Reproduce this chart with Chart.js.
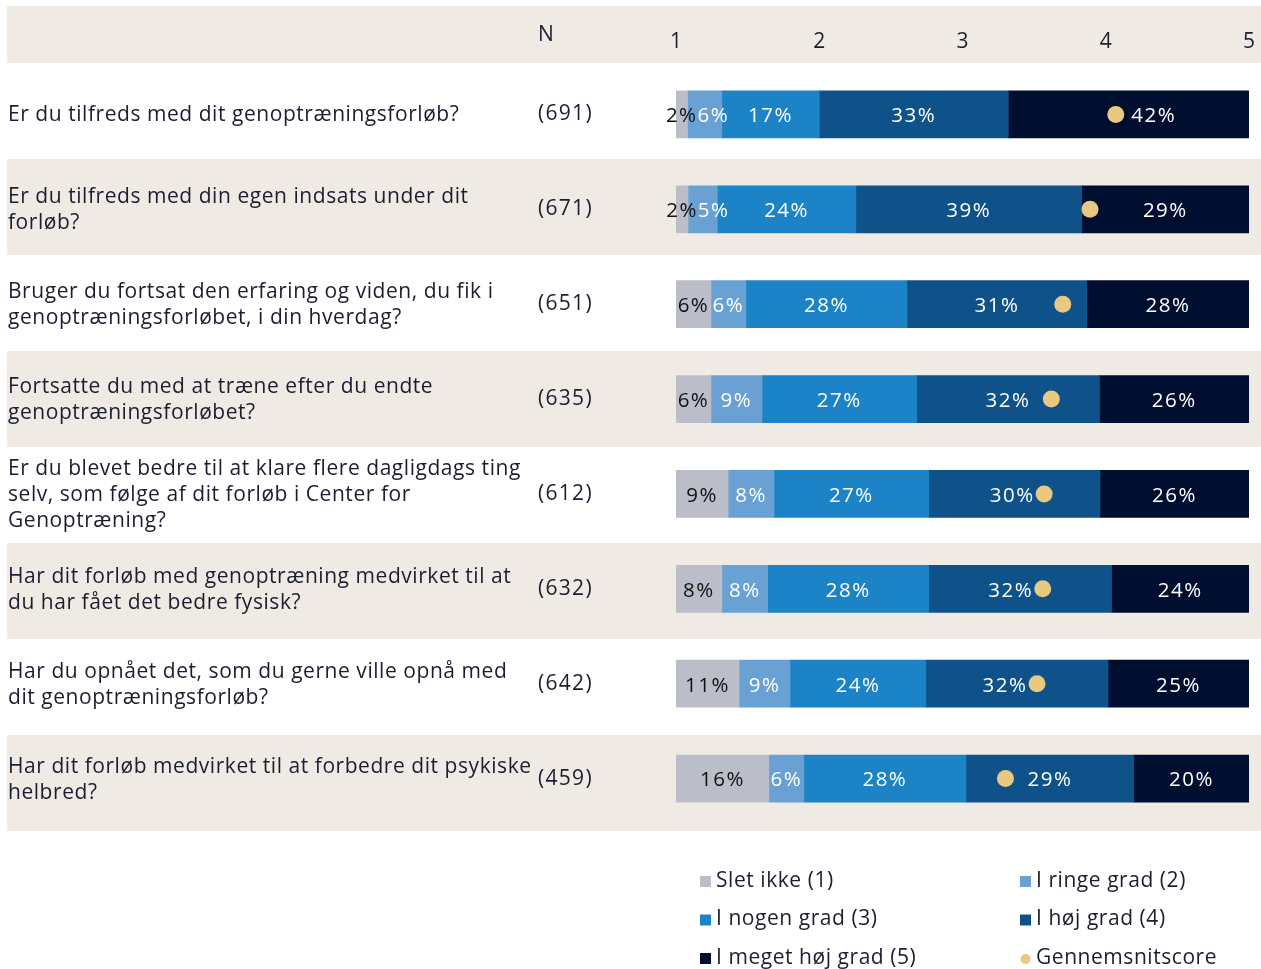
<!DOCTYPE html>
<html lang="da">
<head>
    <meta charset="UTF-8">
    <title>Genoptræningsforløb</title>
    <script src="https://cdn.jsdelivr.net/npm/chart.js"></script>
    <style>
        html, body { margin: 0; padding: 0; background: #fff; }
        .chart-box { width: 1261px; height: 969px; position: relative; }
    </style>
</head>
<body>
    <div class="chart-box"><canvas id="chart"></canvas></div>
    <script>
        // Spørgsmål (linjeskift som i originalen)
        const questions = [
            ['Er du tilfreds med dit genoptræningsforløb?'],
            ['Er du tilfreds med din egen indsats under dit', 'forløb?'],
            ['Bruger du fortsat den erfaring og viden, du fik i', 'genoptræningsforløbet, i din hverdag?'],
            ['Fortsatte du med at træne efter du endte', 'genoptræningsforløbet?'],
            ['Er du blevet bedre til at klare flere dagligdags ting', 'selv, som følge af dit forløb i Center for', 'Genoptræning?'],
            ['Har dit forløb med genoptræning medvirket til at', 'du har fået det bedre fysisk?'],
            ['Har du opnået det, som du gerne ville opnå med', 'dit genoptræningsforløb?'],
            ['Har dit forløb medvirket til at forbedre dit psykiske', 'helbred?']
        ];
        const nValues = [691, 671, 651, 635, 612, 632, 642, 459];

        // Andele i procent
        const sletIkke      = [2.0, 2.1, 6.1, 6.1, 9.1, 8.0, 11.0, 16.2];
        const ringeGrad     = [6.0, 5.1, 6.1, 8.9, 8.0, 8.0, 8.9, 6.1];
        const nogenGrad     = [17.0, 24.2, 28.1, 27.0, 27.0, 28.1, 23.7, 28.3];
        const hoejGrad      = [33.0, 39.4, 31.4, 31.9, 29.9, 31.9, 31.8, 29.3];
        const megetHoejGrad = [42.0, 29.2, 28.3, 26.1, 26.0, 24.0, 24.6, 20.1];
        const meanScore     = [4.07, 3.89, 3.70, 3.62, 3.57, 3.56, 3.52, 3.30];

        const scaleTicks = [1, 2, 3, 4, 5];
        const seriesLabels = ['Slet ikke (1)', 'I ringe grad (2)', 'I nogen grad (3)', 'I høj grad (4)', 'I meget høj grad (5)'];
        const meanLabel = 'Gennemsnitscore';

        const colors = ['#bbbec8', '#6aa1d4', '#1c84c6', '#0f5289', '#000e30'];
        const meanColor = '#e9c882';
        const bandColor = '#efebe4';
        const textColor = '#1c1e30';
        const fontFamily = '"Open Sans", Lato, sans-serif';
        const dotRadius = 8.5;

        const series = [sletIkke, ringeGrad, nogenGrad, hoejGrad, megetHoejGrad];
        const labels = questions.map(q => q.join(' '));

        // baggrundsbånd bag hver anden række
        const bandsPlugin = {
            id: 'bands',
            beforeDraw(chart) {
                const { ctx, chartArea } = chart;
                const top = chartArea.top - 4;
                const step = (chartArea.bottom + 5 - top) / labels.length;
                ctx.save();
                ctx.fillStyle = bandColor;
                ctx.fillRect(7, 6, chart.width - 7, top - 6);
                labels.forEach((l, i) => {
                    if (i % 2 === 1) ctx.fillRect(7, top + i * step, chart.width - 7, step);
                });
                ctx.restore();
            }
        };

        // procenttal i segmenterne, tegnes før prikkerne
        const percentPlugin = {
            id: 'percents',
            afterDatasetDraw(chart, args) {
                if (args.index !== 0) return;
                const ctx = chart.ctx;
                const dots = chart.getDatasetMeta(series.length).data;
                ctx.save();
                ctx.font = '20.5px ' + fontFamily;
                ctx.letterSpacing = '1.5px';
                ctx.textBaseline = 'middle';
                ctx.textAlign = 'left';
                labels.forEach((l, i) => {
                    let prevRight = -Infinity;
                    const dot = dots[i];
                    series.forEach((s, d) => {
                        const bar = chart.getDatasetMeta(d).data[i];
                        const text = Math.round(s[i]) + '%';
                        const w = ctx.measureText(text).width;
                        const center = (bar.x + bar.base) / 2;
                        let left = Math.max(center - w / 2, prevRight);
                        // skub teksten væk fra gennemsnitsprikken
                        if (dot && dot.x + dotRadius > left && dot.x - dotRadius < left + w) {
                            if (dot.x < center) left = dot.x + dotRadius + 7;
                            else left = dot.x - dotRadius - 1 - w;
                        }
                        prevRight = left + w;
                        ctx.fillStyle = d === 0 ? '#111' : '#fff';
                        ctx.fillText(text, left, bar.y + 2);
                    });
                });
                ctx.restore();
            }
        };

        // spørgsmål, N og forklaring
        const textPlugin = {
            id: 'texts',
            afterDraw(chart) {
                const { ctx, chartArea, scales: { y } } = chart;
                ctx.save();
                ctx.font = '21px ' + fontFamily;
                ctx.letterSpacing = '0.55px';
                ctx.fillStyle = textColor;
                ctx.textBaseline = 'middle';
                ctx.textAlign = 'left';
                ctx.fillText('N', 538, 35);
                questions.forEach((q, i) => {
                    const yc = y.getPixelForValue(i);
                    const lh = 26;
                    q.forEach((line, k) => {
                        ctx.fillText(line, 8, yc + 1 + (k - (q.length - 1) / 2) * lh);
                    });
                    ctx.save();
                    ctx.letterSpacing = '1.3px';
                    ctx.fillText('(' + nValues[i] + ')', 538, yc);
                    ctx.restore();
                });

                // forklaring i to kolonner
                const items = seriesLabels.map((t, d) => ({ text: t, color: colors[d], dot: false }));
                items.push({ text: meanLabel, color: meanColor, dot: true });
                items.forEach((it, k) => {
                    const col = k % 2, row = Math.floor(k / 2);
                    const x = chartArea.left + 24 + col * 320;
                    const yy = chartArea.bottom + 55 + row * 38.5;
                    ctx.fillStyle = it.color;
                    if (it.dot) {
                        ctx.beginPath();
                        ctx.arc(x + 5.5, yy + 1, 5, 0, Math.PI * 2);
                        ctx.fill();
                    } else {
                        ctx.fillRect(x, yy - 5, 11, 11);
                    }
                    ctx.fillStyle = textColor;
                    ctx.fillText(it.text, x + 16, yy);
                });
                ctx.restore();
            }
        };

        const datasets = series.map((s, d) => ({
            label: seriesLabels[d],
            data: s,
            backgroundColor: colors[d],
            borderWidth: 0,
            barThickness: 47,
            xAxisID: 'x',
            yAxisID: 'y',
            stack: 'svar'
        }));
        datasets.push({
            type: 'scatter',
            label: meanLabel,
            data: meanScore.map((v, i) => ({ x: v, y: i })),
            xAxisID: 'x2',
            yAxisID: 'y',
            backgroundColor: meanColor,
            borderWidth: 0,
            pointRadius: dotRadius,
            order: -1
        });

        new Chart(document.getElementById('chart'), {
            type: 'bar',
            data: { labels: labels, datasets: datasets },
            options: {
                indexAxis: 'y',
                responsive: true,
                maintainAspectRatio: false,
                animation: false,
                events: [],
                layout: { padding: { left: 676, right: 12, top: 8, bottom: 143 } },
                plugins: { legend: { display: false }, tooltip: { enabled: false } },
                scales: {
                    x: { type: 'linear', min: 0, max: 100, stacked: true, display: false },
                    x2: {
                        type: 'linear', position: 'top', min: 1, max: 5,
                        afterBuildTicks(scale) { scale.ticks = scaleTicks.map(v => ({ value: v })); },
                        afterFit(scale) {
                            scale.height = 59;
                            scale.paddingLeft = 0;
                            scale.paddingRight = 0;
                        },
                        grid: { display: false, drawTicks: false },
                        border: { display: false },
                        ticks: { color: textColor, font: { family: fontFamily, size: 21 }, padding: 12 }
                    },
                    y: { type: 'category', stacked: true, display: false, grid: { display: false } }
                }
            },
            plugins: [bandsPlugin, percentPlugin, textPlugin]
        });
    </script>
</body>
</html>
